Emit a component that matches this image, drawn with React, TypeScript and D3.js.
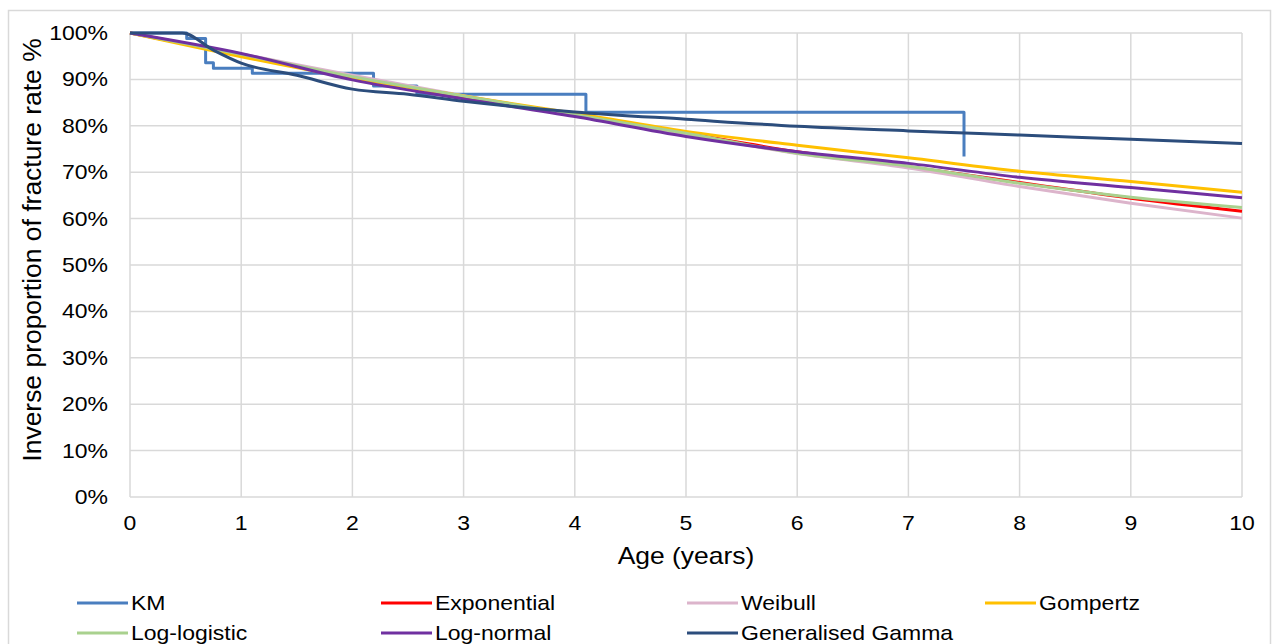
import React, { useEffect, useRef } from 'react';
import * as d3 from 'd3';

// years at which the fitted curves were read
const years = [0, 1, 2, 3, 4, 5, 6, 7, 8, 9, 10];

const exponential = [100, 95.3, 90.7, 86.3, 82.4, 78.4, 74.4, 71.2, 67.8, 64.4, 61.6];
const weibull = [100, 95.5, 90.9, 86.5, 82.3, 78.2, 74.0, 70.9, 66.9, 63.3, 60.1];
const gompertz = [100, 94.9, 90.3, 86.4, 82.7, 78.8, 75.8, 73.1, 70.2, 68.0, 65.7];
const logLogistic = [100, 95.4, 90.6, 86.4, 82.4, 78.4, 74.1, 71.3, 67.6, 64.6, 62.4];
const logNormal = [100, 95.6, 89.9, 85.8, 82.0, 77.7, 74.4, 71.9, 68.9, 66.7, 64.5];

const gammaYears = [0, 0.47, 0.75, 1, 1.5, 2, 2.5, 3, 4, 5, 6, 7, 8, 9, 10];
const genGamma = [100, 100, 96.3, 93.5, 90.9, 87.9, 86.8, 85.3, 83.0, 81.4, 79.9, 78.9, 78.0, 77.1, 76.2];

// Kaplan-Meier step points
const kmYears = [0, 0.51, 0.68, 0.75, 1.1, 2.19, 2.58, 4.1, 7.5];
const kmValues = [100, 98.8, 93.6, 92.4, 91.3, 88.6, 86.8, 82.9, 73.4];

const xTicks = [0, 1, 2, 3, 4, 5, 6, 7, 8, 9, 10];
const yTicks = [0, 10, 20, 30, 40, 50, 60, 70, 80, 90, 100];

const series = [
  { name: 'KM', color: '#4a7ebf', xs: kmYears, ys: kmValues, step: true },
  { name: 'Exponential', color: '#ff0000', xs: years, ys: exponential },
  { name: 'Weibull', color: '#dcb4cb', xs: years, ys: weibull },
  { name: 'Gompertz', color: '#ffc000', xs: years, ys: gompertz },
  { name: 'Log-logistic', color: '#a9d18e', xs: years, ys: logLogistic },
  { name: 'Log-normal', color: '#7030a0', xs: years, ys: logNormal },
  { name: 'Generalised Gamma', color: '#2c4d7c', xs: gammaYears, ys: genGamma },
];

function App() {
  const svgRef = useRef();

  useEffect(() => {
    const svg = d3.select(svgRef.current);
    svg.selectAll('*').remove();

    const font = 'Liberation Sans, Arial, sans-serif';
    const left = 130, right = 1242, top = 33, bottom = 497;
    const stretch = 1.15; // text in the picture is a bit wider than plain Arial

    const x = d3.scaleLinear().domain([0, 10]).range([left, right]);
    const y = d3.scaleLinear().domain([0, 100]).range([bottom, top]);

    const label = (g, tx, ty, str, anchor, size) =>
      g.append('text')
        .attr('transform', `translate(${tx},${ty}) scale(${stretch},1)`)
        .attr('dy', '0.35em')
        .attr('text-anchor', anchor)
        .attr('font-family', font)
        .attr('font-size', size)
        .attr('fill', '#000')
        .text(str);

    // outer chart border
    svg.append('rect')
      .attr('x', 8.5).attr('y', 10.5)
      .attr('width', 1262).attr('height', 650)
      .attr('fill', 'white')
      .attr('stroke', '#d9d9d9')
      .attr('stroke-width', 1.5);

    const grid = svg.append('g');
    grid.selectAll('.hg')
      .data(yTicks)
      .enter().append('line')
      .attr('x1', left).attr('x2', right)
      .attr('y1', d => y(d)).attr('y2', d => y(d))
      .attr('stroke', '#d9d9d9')
      .attr('stroke-width', 1.5);
    grid.selectAll('.vg')
      .data(xTicks)
      .enter().append('line')
      .attr('x1', d => x(d)).attr('x2', d => x(d))
      .attr('y1', top).attr('y2', bottom)
      .attr('stroke', '#d9d9d9')
      .attr('stroke-width', 1.5);

    // tick labels
    const ticks = svg.append('g');
    yTicks.forEach(d => label(ticks, 108, y(d), d + '%', 'end', 20));
    xTicks.forEach(d => label(ticks, x(d), 523, String(d), 'middle', 20));

    label(svg, (left + right) / 2, 556, 'Age (years)', 'middle', 23);

    svg.append('text')
      .attr('transform', `translate(32,250) rotate(-90) scale(1.15,1.1)`)
      .attr('dy', '0.35em')
      .attr('text-anchor', 'middle')
      .attr('font-family', font)
      .attr('font-size', 23)
      .attr('fill', '#000')
      .text('Inverse proportion of fracture rate %');

    // curves
    const lines = svg.append('g');
    series.forEach(s => {
      const pts = s.xs.map((t, i) => [t, s.ys[i]]);
      const line = d3.line()
        .x(d => x(d[0]))
        .y(d => y(d[1]))
        .curve(s.step ? d3.curveStepAfter : d3.curveMonotoneX);
      lines.append('path')
        .datum(pts)
        .attr('d', line)
        .attr('fill', 'none')
        .attr('stroke', s.color)
        .attr('stroke-width', 3)
        .attr('stroke-linejoin', 'round');
    });

    // legend
    const legendCols = [77, 381, 687, 985];
    const legendRows = [603, 633];
    const legend = svg.append('g');
    series.forEach((s, i) => {
      const lx = legendCols[i % 4];
      const ly = legendRows[Math.floor(i / 4)];
      legend.append('line')
        .attr('x1', lx).attr('x2', lx + 51)
        .attr('y1', ly).attr('y2', ly)
        .attr('stroke', s.color)
        .attr('stroke-width', 3);
      label(legend, lx + 54, ly, s.name, 'start', 20);
    });
  }, []);

  return (
    <svg ref={svgRef} width="1277" height="644" style={{ position: 'absolute', left: 0, top: 0 }}></svg>
  );
}

export default App;
